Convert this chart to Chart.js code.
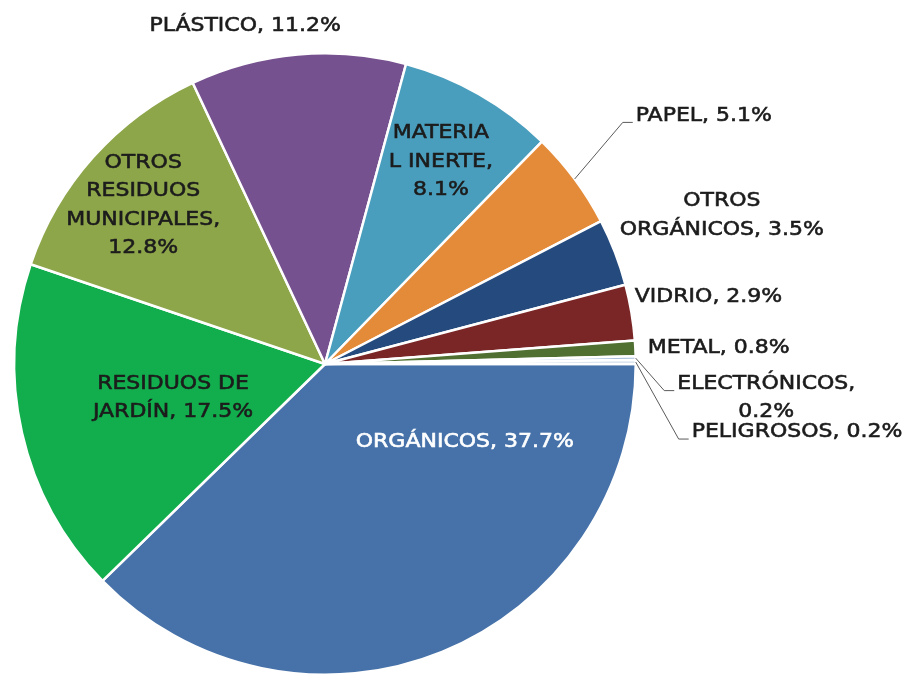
<!DOCTYPE html>
<html><head><meta charset="utf-8">
<script src="https://cdn.jsdelivr.net/npm/chart.js@4.4.1/dist/chart.umd.min.js"></script>
<style>html,body{margin:0;padding:0;background:#fff;}canvas{display:block;}</style>
</head><body>
<canvas id="c" width="911" height="679"></canvas>
<script>
// ---- data ----
const categories = ["ORGÁNICOS","RESIDUOS DE JARDÍN","OTROS RESIDUOS MUNICIPALES","PLÁSTICO","MATERIAL INERTE","PAPEL","OTROS ORGÁNICOS","VIDRIO","METAL","ELECTRÓNICOS","PELIGROSOS"];
const values = [37.7,17.5,12.8,11.2,8.1,5.1,3.5,2.9,0.8,0.2,0.2];
const sliceColors = ["#4672A9","#12AE4D","#8EA64A","#76518F","#4A9EBD","#E48B3A","#244A7E","#7B2626","#4F7030","#A9C0DD","#D2DDEB"];

// ---- label layout (offsets relative to pie centre in units of radius) ----
const labelLayout = [
  {dx:0.450, dy:0.251, align:'center', color:'#ffffff', breaks:[], valueBreak:false},
  {dx:-0.489, dy:0.109, align:'center', color:'#1c1c1c', breaks:[11], valueBreak:false},
  {dx:-0.585, dy:-0.511, align:'center', color:'#1c1c1c', breaks:[5,14], valueBreak:true},
  {dx:-0.257, dy:-1.087, align:'center', color:'#1c1c1c', breaks:[], valueBreak:false},
  {dx:0.373, dy:-0.651, align:'center', color:'#1c1c1c', breaks:[7], valueBreak:true},
  {dx:1.000, dy:-0.800, align:'left', color:'#1c1c1c', breaks:[], valueBreak:false, leader:true},
  {dx:1.277, dy:-0.479, align:'center', color:'#1c1c1c', breaks:[5], valueBreak:false},
  {dx:0.997, dy:-0.215, align:'left', color:'#1c1c1c', breaks:[], valueBreak:false},
  {dx:1.039, dy:-0.051, align:'left', color:'#1c1c1c', breaks:[], valueBreak:false},
  {dx:1.420, dy:0.109, align:'center', color:'#1c1c1c', breaks:[], valueBreak:true, leader:true},
  {dx:1.180, dy:0.219, align:'left', color:'#1c1c1c', breaks:[], valueBreak:false, leader:true}
];
const FONT = '20px "DejaVu Sans"';
const SX = 1.1;
const LH = 28.5;

function buildLines(i){
  const name = categories[i];
  const L = labelLayout[i];
  const lines = [];
  let prev = 0;
  L.breaks.forEach(b => { lines.push(name.slice(prev, b).trim()); prev = b; });
  lines.push(name.slice(prev).trim());
  const val = values[i].toFixed(1) + '%';
  if (L.valueBreak) { lines[lines.length-1] += ','; lines.push(val); }
  else { lines[lines.length-1] += ', ' + val; }
  return lines;
}

const labelPlugin = {
  id: 'sliceLabels',
  afterDatasetsDraw(chart){
    const ctx = chart.ctx;
    const meta = chart.getDatasetMeta(0);
    ctx.save();
    ctx.font = FONT;
    ctx.textBaseline = 'middle';
    meta.data.forEach((arc, i) => {
      const L = labelLayout[i];
      const cx = arc.x, cy = arc.y, R = arc.outerRadius;
      const ax = cx + L.dx * R, ay = cy + L.dy * R;
      const lines = buildLines(i);
      const y0 = ay - (lines.length - 1) * LH / 2;
      ctx.fillStyle = L.color;
      ctx.strokeStyle = L.color;
      ctx.lineWidth = 0.6;
      lines.forEach((s, k) => {
        ctx.save();
        ctx.translate(ax, y0 + k * LH);
        ctx.scale(SX, 1);
        ctx.textAlign = L.align;
        ctx.fillText(s, 0, 0);
        ctx.strokeText(s, 0, 0);
        ctx.restore();
      });
      if (L.leader) {
        const w = ctx.measureText(lines[0]).width * SX;
        const left = L.align === 'center' ? ax - w / 2 : ax;
        const mid = (arc.startAngle + arc.endAngle) / 2;
        const sx = cx + Math.cos(mid) * R, sy = cy + Math.sin(mid) * R;
        const ly = y0 + 7;
        ctx.strokeStyle = '#5a5a5a';
        ctx.lineWidth = 1;
        ctx.beginPath();
        ctx.moveTo(sx, sy);
        ctx.lineTo(left - 13, ly);
        ctx.lineTo(left - 3, ly);
        ctx.stroke();
      }
    });
    ctx.restore();
  }
};

new Chart(document.getElementById('c'), {
  type: 'pie',
  data: {
    labels: categories,
    datasets: [{
      data: values,
      backgroundColor: sliceColors,
      borderColor: '#ffffff',
      borderWidth: 2.5,
      hoverBorderWidth: 2.5,
      hoverOffset: 0
    }]
  },
  options: {
    responsive: false,
    animation: false,
    rotation: 90,
    events: [],
    layout: { padding: { left: 13, right: 274, top: 52, bottom: 3 } },
    plugins: { legend: { display: false }, tooltip: { enabled: false } }
  },
  plugins: [labelPlugin]
});
</script>
</body></html>
